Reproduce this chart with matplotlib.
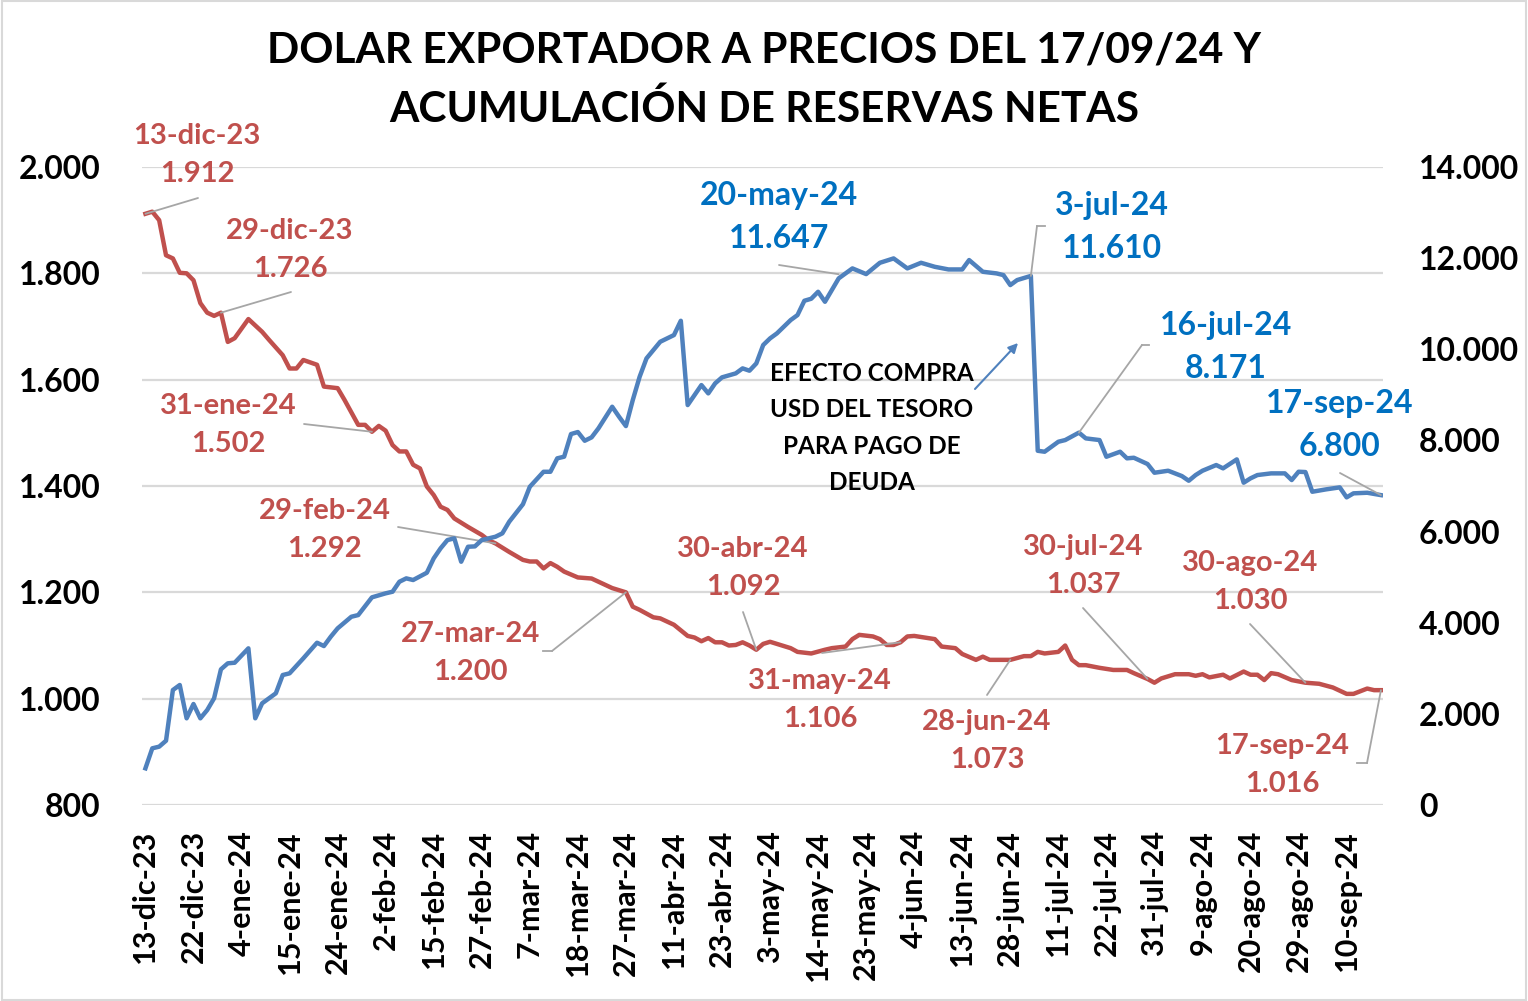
import matplotlib
matplotlib.use("Agg")
import matplotlib.pyplot as plt
from matplotlib.lines import Line2D
from matplotlib.patches import Rectangle

plt.rcParams["font.family"] = ["Lato", "DejaVu Sans"]
plt.rcParams["font.weight"] = "bold"

W, H = 1528, 1001

TITLE = "DOLAR EXPORTADOR A PRECIOS DEL 17/09/24 Y\nACUMULACIÓN DE RESERVAS NETAS"
NOTE = "EFECTO COMPRA\nUSD DEL TESORO\nPARA PAGO DE\nDEUDA"

# eje x: días hábiles desde el 13-dic-23, una etiqueta cada 7 ruedas
x_labels = ["13-dic-23", "22-dic-23", "4-ene-24", "15-ene-24", "24-ene-24", "2-feb-24",
            "15-feb-24", "27-feb-24", "7-mar-24", "18-mar-24", "27-mar-24", "11-abr-24",
            "23-abr-24", "3-may-24", "14-may-24", "23-may-24", "4-jun-24", "13-jun-24",
            "28-jun-24", "11-jul-24", "22-jul-24", "31-jul-24", "9-ago-24", "20-ago-24",
            "29-ago-24", "10-sep-24"]
n_days = 181

# dólar exportador a precios del 17/09/24 (eje izq.)
dolar_idx = [0, 1, 2, 3, 4, 5, 6, 7, 8, 9, 10, 11, 12, 13, 15, 17, 18, 20, 21, 22, 23, 25,
             26, 28, 29, 31, 32, 33, 34, 35, 36, 37, 38, 39, 40, 41, 42, 43, 44, 45, 47, 49,
             50, 51, 53, 55, 56, 57, 58, 59, 60, 61, 63, 65, 66, 68, 70, 71, 72, 74, 75, 77,
             79, 80, 81, 82, 83, 84, 85, 86, 87, 88, 89, 90, 91, 92, 94, 95, 97, 99, 100,
             102, 103, 104, 106, 107, 108, 109, 110, 111, 112, 114, 115, 116, 118, 119, 121,
             122, 123, 125, 126, 128, 129, 130, 131, 133, 134, 135, 136, 137, 139, 141, 143,
             144, 146, 147, 148, 150, 152, 153, 154, 155, 157, 158, 160, 161, 162, 163, 164,
             165, 167, 169, 171, 173, 175, 176, 178, 179, 180]
dolar_val = [1912, 1916, 1900, 1834, 1828, 1801, 1800, 1787, 1744, 1726, 1720, 1726, 1671,
             1678, 1714, 1690, 1675, 1646, 1621, 1621, 1637, 1628, 1587, 1584, 1562, 1515,
             1515, 1502, 1513, 1504, 1477, 1465, 1465, 1440, 1433, 1399, 1383, 1361, 1355,
             1339, 1323, 1308, 1298, 1292, 1276, 1261, 1258, 1258, 1245, 1255, 1248, 1239,
             1228, 1226, 1220, 1208, 1200, 1173, 1167, 1153, 1151, 1139, 1118, 1115, 1108,
             1114, 1106, 1106, 1100, 1101, 1106, 1100, 1092, 1103, 1107, 1103, 1095, 1088,
             1085, 1092, 1095, 1098, 1112, 1120, 1117, 1112, 1101, 1101, 1106, 1117, 1118,
             1114, 1112, 1098, 1095, 1084, 1073, 1079, 1073, 1073, 1073, 1080, 1080, 1088,
             1085, 1088, 1100, 1073, 1063, 1063, 1058, 1054, 1054, 1048, 1037, 1030, 1038,
             1046, 1046, 1043, 1046, 1040, 1045, 1038, 1051, 1045, 1045, 1035, 1048, 1046,
             1035, 1030, 1028, 1021, 1009, 1009, 1019, 1016, 1016]

# reservas netas, millones de USD (eje der.)
res_idx = [0, 1, 2, 3, 4, 5, 6, 7, 8, 9, 10, 11, 12, 13, 15, 16, 17, 19, 20, 21, 23, 25, 26,
           27, 28, 30, 31, 33, 35, 36, 37, 38, 39, 41, 42, 43, 44, 45, 46, 47, 48, 49, 50,
           51, 52, 53, 55, 56, 58, 59, 60, 61, 62, 63, 64, 65, 66, 68, 69, 70, 71, 72, 73,
           75, 76, 77, 78, 79, 81, 82, 83, 84, 86, 87, 88, 89, 90, 91, 92, 94, 95, 96, 97,
           98, 99, 100, 101, 103, 105, 107, 109, 110, 111, 113, 115, 117, 119, 120, 122,
           124, 125, 126, 127, 129, 130, 131, 133, 134, 136, 137, 139, 140, 142, 143, 144,
           146, 147, 149, 151, 152, 153, 154, 156, 157, 159, 160, 161, 162, 164, 166, 167,
           168, 169, 170, 172, 174, 175, 176, 178, 180]
res_val = [805, 1244, 1280, 1411, 2523, 2633, 1902, 2216, 1902, 2084, 2341, 2977, 3109, 3122,
           3438, 1902, 2231, 2451, 2852, 2889, 3218, 3561, 3488, 3693, 3876, 4131, 4168,
           4557, 4645, 4680, 4899, 4973, 4937, 5097, 5412, 5632, 5814, 5851, 5338, 5667,
           5675, 5814, 5851, 5887, 5961, 6216, 6600, 6983, 7312, 7312, 7607, 7643, 8140,
           8184, 7993, 8067, 8265, 8739, 8520, 8315, 8886, 9397, 9800, 10165, 10238, 10312,
           10626, 8776, 9215, 9032, 9252, 9384, 9471, 9581, 9530, 9690, 10093, 10239, 10349,
           10641, 10751, 11065, 11109, 11262, 11043, 11300, 11556, 11775, 11650, 11898,
           11994, 11885, 11775, 11898, 11810, 11752, 11752, 11958, 11701, 11665, 11628,
           11409, 11519, 11610, 7773, 7752, 7971, 8008, 8171, 8045, 8008, 7642, 7752, 7607,
           7620, 7482, 7291, 7335, 7218, 7115, 7240, 7335, 7460, 7387, 7584, 7072, 7168,
           7240, 7277, 7277, 7131, 7313, 7306, 6874, 6926, 6970, 6751, 6839, 6852, 6800]

left_ticks = [800, 1000, 1200, 1400, 1600, 1800, 2000]
right_ticks = [0, 2000, 4000, 6000, 8000, 10000, 12000, 14000]

# etiquetas de datos: (fecha, índice, valor)
dolar_notes = [("13-dic-23", 0, 1912), ("29-dic-23", 11, 1726), ("31-ene-24", 33, 1502),
               ("29-feb-24", 51, 1292), ("27-mar-24", 70, 1200), ("30-abr-24", 89, 1092),
               ("31-may-24", 110, 1106), ("28-jun-24", 126, 1073), ("30-jul-24", 146, 1037),
               ("30-ago-24", 169, 1030), ("17-sep-24", 180, 1016)]
res_notes = [("20-may-24", 101, 11647), ("3-jul-24", 129, 11610),
             ("16-jul-24", 136, 8171), ("17-sep-24", 180, 6800)]

# posición del texto y quiebres de la línea guía, en píxeles de la imagen
dolar_pos = [((197, 155), [(198, 198)]), ((290, 250), [(291, 292)]),
             ((228, 425), [(304, 424)]), ((325, 530), [(398, 527)]),
             ((470, 653), [(543, 651), (552, 651)]), ((743, 568), [(743, 612)]),
             ((820, 700), [(822, 653)]), ((987, 741), [(987, 695)]),
             ((1083, 566), [(1083, 608)]), ((1250, 582), [(1250, 624)]),
             ((1282, 765), [(1357, 763), (1367, 763)])]
res_pos = [((779, 217), [(779, 265)]), ((1112, 227), [(1045, 226), (1037, 226)]),
           ((1226, 347), [(1149, 345), (1142, 345)]), ((1340, 425), [(1340, 473)])]

RED = "#C0504D"
BLUE = "#4F81BD"
BLUE_TXT = "#0070C0"
GRID = "#D9D9D9"


def fx(x, y):
    return x / W, 1 - y / H


def fmt(v):
    return f"{v:,}".replace(",", ".")


fig = plt.figure(figsize=(W / 100, H / 100), dpi=100)
fig.add_artist(Rectangle((0.001, 0.001), 0.998, 0.998, transform=fig.transFigure,
                         fill=False, edgecolor=GRID, linewidth=1.5))

ax = fig.add_axes([142 / W, 1 - 805 / H, (1383 - 142) / W, (805 - 167) / H])
ax2 = ax.twinx()

ax.plot(dolar_idx, dolar_val, color=RED, linewidth=3.2, solid_joinstyle="round", zorder=3)
ax2.plot(res_idx, res_val, color=BLUE, linewidth=3.2, solid_joinstyle="round", zorder=3)

ax.set_xlim(-0.5, n_days - 0.7)
ax.set_ylim(left_ticks[0], left_ticks[-1])
ax2.set_ylim(right_ticks[0], right_ticks[-1])

ax.set_yticks(left_ticks)
ax.set_yticklabels([fmt(v) for v in left_ticks])
ax2.set_yticks(right_ticks)
ax2.set_yticklabels([fmt(v) for v in right_ticks])
ax.set_xticks(range(0, 7 * len(x_labels), 7))
ax.set_xticklabels(x_labels, rotation=90)

ax.grid(True, axis="y", color=GRID, linewidth=1.6)
ax.set_axisbelow(True)
ax.tick_params(axis="y", length=0, labelsize=23, pad=30)
ax.tick_params(axis="x", length=0, labelsize=22, pad=18)
ax2.tick_params(axis="y", length=0, labelsize=23, pad=26)
for a in (ax, ax2):
    for s in a.spines.values():
        s.set_visible(False)

fig.text(0.5, fx(0, 80)[1], TITLE, ha="center", va="center", fontsize=30.5,
         fontweight="bold", linespacing=1.6)


def note(axis, notes, pos, color, size):
    for (date, i, v), ((tx, ty), guide) in zip(notes, pos):
        fig.text(*fx(tx, ty), f"{date}\n{fmt(v)}", ha="center", va="center",
                 color=color, fontsize=size, fontweight="bold", linespacing=1.55)
        axis.annotate("", xy=(i, v), xytext=fx(*guide[-1]), textcoords="figure fraction",
                      arrowprops=dict(arrowstyle="-", color="#A6A6A6", lw=1.3,
                                      shrinkA=0, shrinkB=0))
        if len(guide) > 1:
            xs, ys = zip(*[fx(*p) for p in guide])
            fig.add_artist(Line2D(xs, ys, color="#A6A6A6", lw=1.3))


note(ax, dolar_notes, dolar_pos, RED, 21)
note(ax2, res_notes, res_pos, BLUE_TXT, 23)

fig.text(*fx(872, 428), NOTE, ha="center", va="center", fontsize=17.5, fontweight="bold",
         linespacing=1.7)
ax2.annotate("", xy=fx(1018, 343), xytext=fx(975, 389), xycoords="figure fraction",
             textcoords="figure fraction",
             arrowprops=dict(arrowstyle="-|>", color=BLUE, lw=1.5, mutation_scale=14,
                             shrinkA=0, shrinkB=0))

fig.savefig("out.png", dpi=100)
